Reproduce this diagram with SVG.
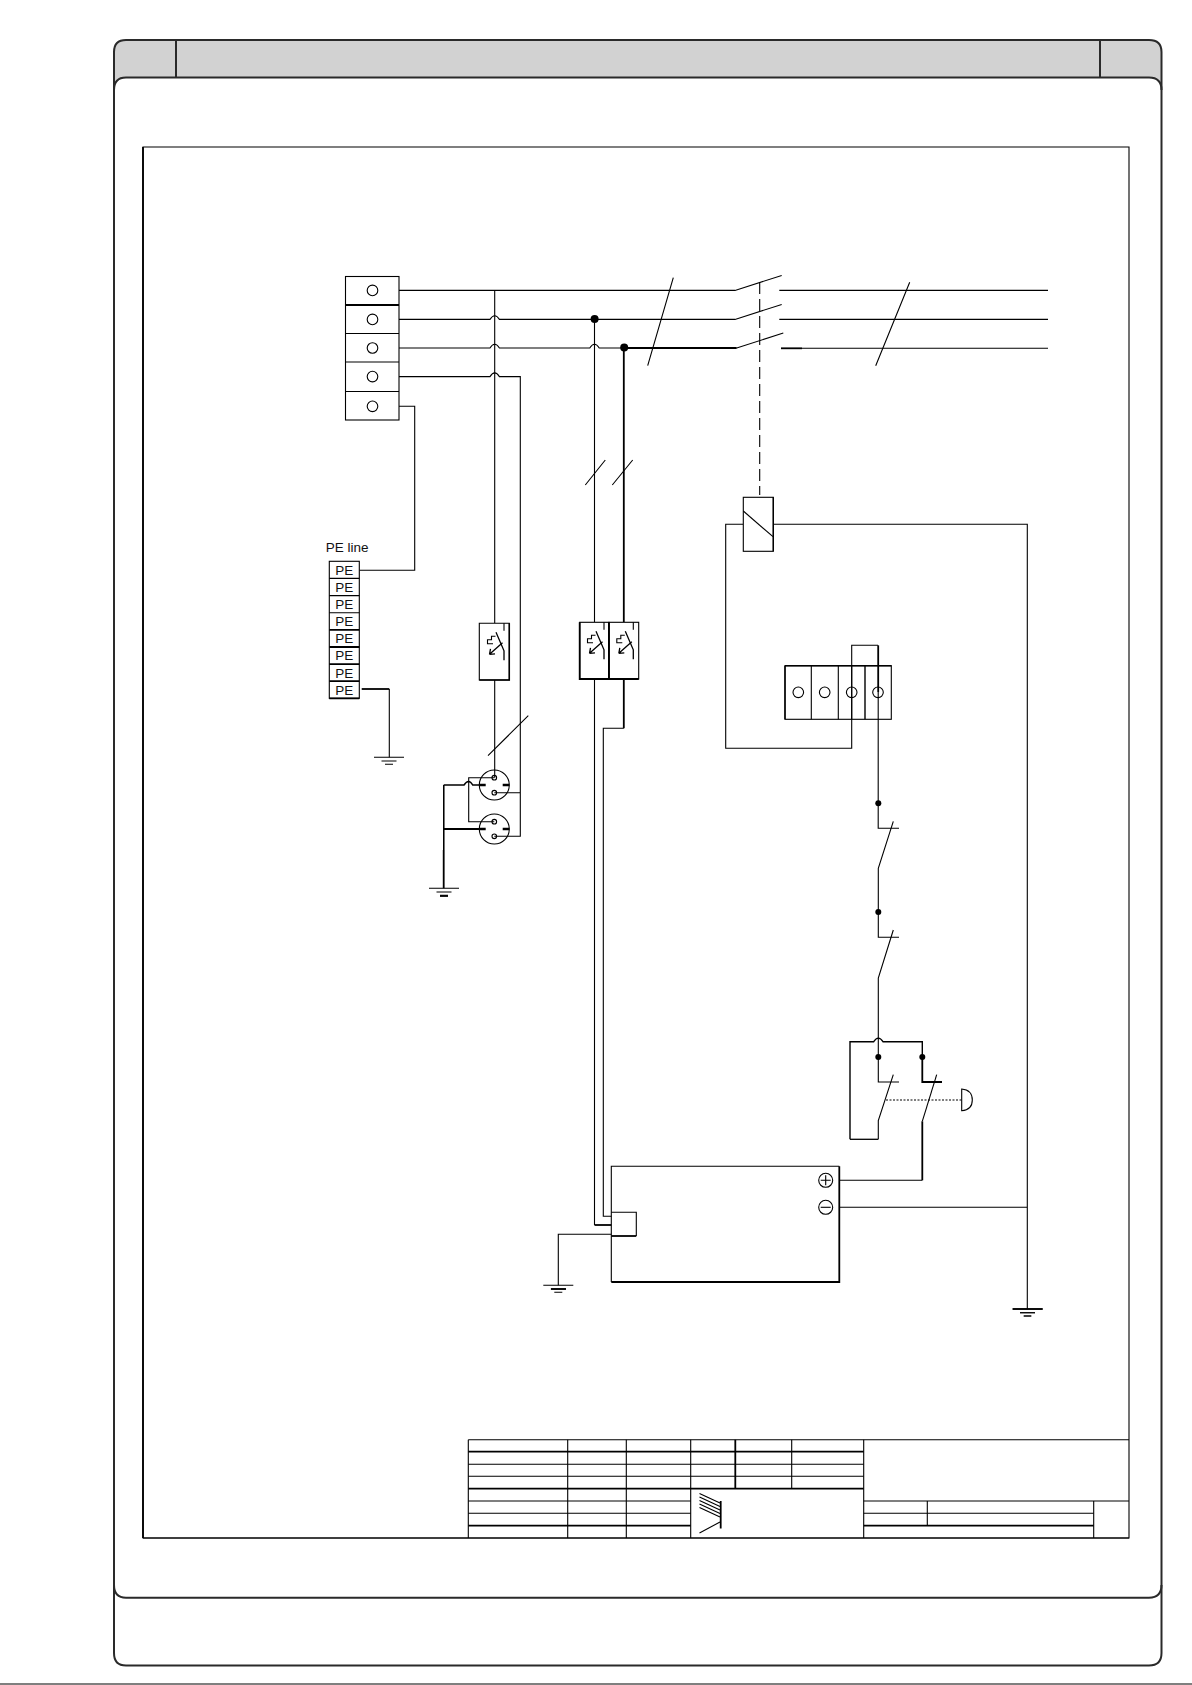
<svg xmlns="http://www.w3.org/2000/svg" width="1192" height="1685" viewBox="0 0 1192 1685">
<style>
.f{fill:none;stroke:#2a2a2a;stroke-width:2}
.w{fill:none;stroke:#000;stroke-width:1.1}
.t{fill:none;stroke:#000;stroke-width:1.8}
.n{fill:#fff;stroke:#000;stroke-width:1.1}
.d{fill:#000;stroke:none}
.x{font-family:"Liberation Sans",Arial,sans-serif;font-size:13.5px;fill:#111}
</style>
<defs>
<g id="gnd"><path class="w" d="M-15 0H15M-7.5 3.7H7.5M-4 7H4"/></g>
<g id="brk">
<path class="w" d="M0 0V7.5"/>
<path class="t" style="stroke-width:1.3" d="M-8 9L0 27.5V37"/>
<path class="t" style="stroke-width:1.3" d="M-1.5 19.5L-14.5 31M-14.5 31L-13.5 25.5M-14.5 31L-9 30.5"/>
<path class="w" d="M-8.5 13H-12.5V16.5H-16.5V20.5H-11"/>
</g>
</defs>
<rect width="1192" height="1685" fill="#fff"/>
<g id="frame">
<path d="M114 1665V52Q114 40 126 40H1149Q1161.5 40 1161.5 52V1653Q1161.5 1665.5 1149 1665.5H126Q114 1665.5 114 1653Z" fill="#fff" stroke="none"/>
<path d="M114 90V52Q114 40 126 40H1149Q1161.5 40 1161.5 52V90Q1161.5 77.5 1149 77.5H126Q114 77.5 114 90Z" fill="#d2d2d2" stroke="none"/>
<path class="f" d="M114 1653V52Q114 40 126 40H1149Q1161.5 40 1161.5 52V1653Q1161.5 1665.5 1149 1665.5H126Q114 1665.5 114 1653Z"/>
<path class="f" d="M114 90Q114 77.5 126 77.5H1149Q1161.5 77.5 1161.5 90"/>
<path class="f" d="M114 1585Q114 1597.7 126 1597.7H1149Q1161.5 1597.7 1161.5 1585"/>
<path class="f" d="M176 40V77.5M1100 40V77.5"/>
<path d="M0 1684H1192" stroke="#000" stroke-width="1.1"/>
<path d="M143 1538V147H1129V1538Z" class="w"/>
<path d="M143 147V1538" class="t"/>
</g>
<g id="title-block">
<path class="w" d="M468.3 1439.7V1538M567.7 1439.7V1538M626.3 1439.7V1538M690.7 1439.7V1538M791.7 1439.7V1488.7M863.7 1439.7V1538M1093.7 1501V1538M927.3 1501V1525.7"/>
<path class="w" d="M468.3 1439.7H1129M468.3 1464.3H863.7M468.3 1476.3H863.7M468.3 1501H690.7M468.3 1513.3H690.7M143 1538H1129M863.7 1501H1129M863.7 1513.3H1093.7"/>
<path class="t" d="M735.3 1439.7V1488.7M468.3 1451.7H863.7M468.3 1488.7H863.7M468.3 1525.7H690.7M863.7 1525.7H1093.7"/>
<path class="t" d="M720.7 1501V1528.5"/>
<path class="w" d="M699.5 1493.5L720 1503M699.5 1497L720 1506.5M699.5 1500.5L720 1510M699.5 1504L720 1513.5M699.5 1507.5L720 1517M699.5 1533L720 1522"/>
</g>
<g id="connectors">
<path class="w" d="M378 290.4H735L781.7 275.4M779.3 290.4H1048"/>
<path class="w" d="M378 319.4H490Q494.7 312 499.4 319.4H735L781.7 304.4M779.3 319.4H1048"/>
<path class="w" d="M378 348H490Q494.7 340.6 499.4 348H589.8Q594.5 340.6 599.2 348H624"/>
<path class="t" d="M624 348H736.7"/>
<path class="w" d="M736.7 348L783.3 333"/>
<path class="t" d="M781 348.3H802"/><path class="w" d="M802 348.3H1048"/>
<path class="w" d="M378 376.6H490Q494.7 369.2 499.4 376.6H520.3V836.3H494.3M520.3 792.7H494.3"/>
<path class="w" d="M378 406.3H414.7V570.3H359.3"/>
<path class="t" d="M361.7 689H389.3"/><path class="w" d="M389.3 689V757.3"/>
<path class="w" d="M494.7 290.4V623.3M494.7 680V777.7"/>
<path class="w" d="M594.5 319.4V622M594.5 679V1216"/>
<path class="t" d="M623.8 348V622M623.8 679V728.3"/>
<path class="w" d="M623.8 728.3H603.3V1216.3H611.3"/>
<path class="w" d="M594.5 1216V1225"/>
<path class="t" d="M594.5 1225H611.3"/>
<path class="w" d="M611.3 1234.3H558.3V1285.3"/>
<path class="w" d="M673.3 277.7L647.7 365.7M909.7 282.3L875.7 365.7M605.3 460L585.3 485M632.7 460L612.3 485M528.3 715.7L488 755.7"/>
<path class="w" stroke-dasharray="12 5" d="M759.7 282V495"/>
<path class="w" d="M743 524.3H725.7V748.3H851.7V645.3H878"/>
<path class="t" d="M878.2 645.3V692"/>
<path class="w" d="M878.2 692V828.3H899M893.3 821.3L878.3 868.3V937.3H899M893.3 930L878.3 978V1037Q878.3 1034 878.3 1082H899M893.3 1074.7L878.3 1120.7V1139.3"/>
<path class="t" d="M850 1139.3H878.3" style="stroke-width:1.3"/>
<path class="t" d="M850 1139.3V1041.7H873.7Q878.3 1034.5 883 1041.7H922.3V1057" style="stroke-width:1.4"/>
<path class="t" d="M922.3 1057V1082H942"/>
<path class="w" d="M936.7 1074.7L922.3 1121.3"/>
<path class="t" d="M922.3 1121.3V1180.3"/>
<path class="w" d="M922.3 1180.3H839.3M839.3 1207.3H1027.3M773.3 524.3H1027.3V1309"/>
<path class="t" d="M886 1100H961.7" stroke-dasharray="2 1.5" style="stroke-width:1.2"/>
<path class="w" d="M443.7 785V850"/>
<path class="t" d="M443.7 850V888.3M443.7 829H479.3" />
<path class="t" d="M443.7 785H464Q468.7 778 472.7 785H479.3" style="stroke-width:1.5"/>
<path class="t" d="M443.7 785V850" style="stroke-width:1.4"/>
<path class="w" d="M494.3 777.7H468.7V821.7H494.3"/>
<path class="w" d="M851.7 719V692M851.7 665.5V692"/>
</g>
<g id="terminal-strip-x1">
<rect class="n" x="345.5" y="276.5" width="53.5" height="143.5"/>
<path class="w" d="M345.5 333.5H399M345.5 362H399M345.5 391.5H399"/>
<path class="t" d="M345.5 305H399"/>
<circle class="n" cx="372.5" cy="290.4" r="5.3"/>
<circle class="n" cx="372.5" cy="319.4" r="5.3"/>
<circle class="n" cx="372.5" cy="348" r="5.3"/>
<circle class="n" cx="372.5" cy="376.6" r="5.3"/>
<circle class="n" cx="372.5" cy="406.3" r="5.3"/>
</g>
<g id="pe-line">
<text class="x" x="325.7" y="552.3">PE line</text>
<rect class="n" x="329.3" y="561.3" width="30" height="137"/>
<path class="w" d="M329.3 578.4H359.3M329.3 595.6H359.3M329.3 612.7H359.3"/>
<path class="t" d="M329.3 629.8H359.3M329.3 647H359.3M329.3 664.1H359.3M329.3 681.2H359.3M329.3 698.3H359.3"/>
<text class="x" text-anchor="middle" x="344.3" y="574.8">PE</text>
<text class="x" text-anchor="middle" x="344.3" y="591.9">PE</text>
<text class="x" text-anchor="middle" x="344.3" y="609">PE</text>
<text class="x" text-anchor="middle" x="344.3" y="626.2">PE</text>
<text class="x" text-anchor="middle" x="344.3" y="643.3">PE</text>
<text class="x" text-anchor="middle" x="344.3" y="660.4">PE</text>
<text class="x" text-anchor="middle" x="344.3" y="677.6">PE</text>
<text class="x" text-anchor="middle" x="344.3" y="694.7">PE</text>
</g>
<g id="ground-1"><use href="#gnd" x="389" y="757.3"/></g>
<g id="ground-2"><use href="#gnd" x="444" y="888.3"/><path class="t" d="M440 896H448"/></g>
<g id="ground-3"><use href="#gnd" x="558.3" y="1285.3"/><path class="t" d="M551 1289H566"/></g>
<g id="ground-4"><use href="#gnd" x="1027.5" y="1309"/><path class="t" d="M1012.7 1309H1042.7"/><path class="w" d="M1020 1312.7H1035M1024 1316H1031"/></g>
<g id="breaker-1">
<path class="n" d="M479.3 623.3H509.3V680H479.3Z"/>
<path class="t" d="M509.3 623.3V680H479.3" style="stroke-width:1.5"/>
<use href="#brk" x="504" y="623.3"/>
</g>
<g id="breaker-2">
<rect class="n" x="579.7" y="622.3" width="29.3" height="56.7"/>
<path class="t" d="M579.7 622.3V679H609V622.3"/>
<use href="#brk" x="604" y="622.3"/>
</g>
<g id="breaker-3">
<rect class="n" x="609" y="622.3" width="29.7" height="56.7"/>
<path class="t" d="M609 622.3V679H638.7"/>
<use href="#brk" x="633.3" y="622.3"/>
</g>
<g id="socket-1" class="sock">
<circle class="w" cx="494.3" cy="785" r="15"/>
<circle class="w" cx="494.3" cy="777.7" r="2.3"/>
<circle class="w" cx="494.3" cy="792.7" r="2.3"/>
<path class="t" style="stroke-width:2.4" d="M479.3 785H485.7M502.7 785H509.3"/>
</g>
<g id="socket-2">
<circle class="w" cx="494.3" cy="829" r="15"/>
<circle class="w" cx="494.3" cy="821.7" r="2.3"/>
<circle class="w" cx="494.3" cy="836.3" r="2.3"/>
<path class="t" style="stroke-width:2.4" d="M479.3 829H485.7M502.7 829H509.3"/>
</g>
<g id="dots">
<circle class="d" cx="594.6" cy="319" r="4"/>
<circle class="d" cx="624.2" cy="347.5" r="4"/>
<circle class="d" cx="878.3" cy="803.3" r="3"/>
<circle class="d" cx="878.3" cy="912" r="3"/>
<circle class="d" cx="878.3" cy="1057" r="3"/>
<circle class="d" cx="922.3" cy="1057" r="3"/>
</g>
<g id="coil">
<rect class="n" x="743.3" y="497.3" width="30" height="54"/>
<path class="t" d="M773.3 497.3V551.3" style="stroke-width:1.4"/>
<path class="w" d="M743.3 511L773 536.7"/>
</g>
<g id="terminal-strip-x2">
<rect class="w" x="785" y="665.7" width="106.3" height="53.6"/>
<path class="t" d="M785 665.7H891.3M785 665.7V719.3M865 665.7V719.3" style="stroke-width:1.4"/>
<path class="w" d="M811.3 665.7V719.3M838.3 665.7V719.3"/>
<circle class="w" cx="798.3" cy="692.3" r="5.3"/>
<circle class="w" cx="824.7" cy="692.3" r="5.3"/>
<circle class="w" cx="851.7" cy="692.3" r="5.3"/>
<circle class="w" cx="878" cy="692.3" r="5.3"/>
</g>
<g id="mushroom"><path class="w" d="M961.7 1089V1110.7Q972.3 1110 972.3 1100Q972.3 1090 961.7 1089Z"/></g>
<g id="power-supply">
<path class="w" d="M611.3 1282V1166.3H839.3"/>
<path class="t" d="M611.3 1282H839.3V1166.3"/>
<path class="w" d="M611.3 1212.3H636.3V1236"/>
<path class="t" d="M611.3 1236H636.3"/>
<circle class="w" cx="825.7" cy="1180.3" r="7"/>
<path class="w" d="M820.7 1180.3H830.7M825.7 1175.3V1185.3"/>
<circle class="w" cx="825.7" cy="1207.3" r="7"/>
<path class="w" d="M820.7 1207.3H830.7"/>
</g>
</svg>
